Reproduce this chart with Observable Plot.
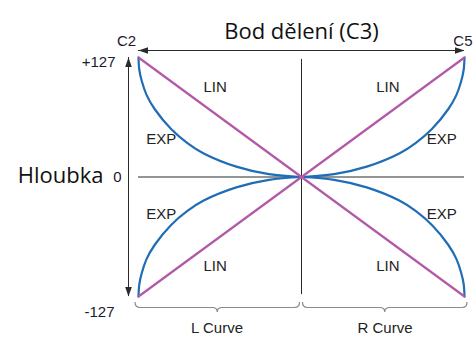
<!DOCTYPE html>
<html><head><meta charset="utf-8">
<script src="https://cdn.jsdelivr.net/npm/d3@7"></script>
<script src="https://cdn.jsdelivr.net/npm/@observablehq/plot@0.6"></script>
<style>html,body{margin:0;padding:0;background:#fff;overflow:hidden;}</style>
</head><body><div id="chart"></div>
<script>
const chartTitle = "Bod dělení (C3)";
const depthTitle = "Hloubka";
const rangeNotes = ["C2", "C5"];
const rangeNoteX = [-1, 1];
const depthTicks = [127, 0, -127];
const depthTickLabels = ["+127", "0", "-127"];
const curveTypes = ["EXP", "LIN"];
const sideNames = ["L Curve", "R Curve"];
const sideSigns = [-1, 1];
// one quadrant: distance from the break point (0..1) -> depth magnitude
const linPos = [0, 1];
const linDepth = [0, 127];
const expPos = [0, 0.2, 0.4, 0.6, 0.7, 0.8, 0.9, 0.95, 0.98, 0.995, 1];
const expDepth = [0, 3, 11, 25, 36, 51, 72, 87, 102, 114, 127];

// build the four mirrored curves per type
const series = [];
for (const sx of sideSigns) for (const sy of [1, -1]) {
  expPos.forEach((p, i) => series.push({type: "EXP", id: `EXP${sx}${sy}`, x: sx * p, y: sy * expDepth[i]}));
  linPos.forEach((p, i) => series.push({type: "LIN", id: `LIN${sx}${sy}`, x: sx * p, y: sy * linDepth[i]}));
}
const curveLabels = [];
for (const sx of sideSigns) for (const sy of [1, -1]) {
  curveLabels.push({text: "LIN", x: sx * 0.53, y: sy * 95});
  curveLabels.push({text: "EXP", x: sx * 0.86, y: sy * 40});
}

const head = {draw(ctx) { ctx.moveTo(0, 0); ctx.lineTo(3.3, 9.5); ctx.lineTo(-3.3, 9.5); ctx.closePath(); }};
const axisColor = "#2a2a2a";
const labelColor = "#1b1b2e";
const small = {fontSize: 15, fontFamily: "Liberation Sans, Arial, sans-serif"};
const big = {fontSize: 22, fontFamily: "Open Sans, sans-serif", fill: "#111"};

const braces = (index, scales) => {
  const g = d3.create("svg:g").attr("fill", "none").attr("stroke", "#8a8a8a").attr("stroke-width", 1.2);
  const yb = scales.y(-127) + 6, ym = yb + 5.5, yt = yb + 10;
  const spans = [[scales.x(-1) - 3, scales.x(0) - 1.5], [scales.x(0) + 1.5, scales.x(1) + 3]];
  for (const [a, b] of spans) {
    const m = (a + b) / 2, r = 5;
    g.append("path").attr("d",
      `M${a},${yb} Q${a},${ym} ${a + r},${ym} L${m - r},${ym} Q${m},${ym} ${m},${yt} Q${m},${ym} ${m + r},${ym} L${b - r},${ym} Q${b},${ym} ${b},${yb}`);
  }
  return g.node();
};

const chart = Plot.plot({
  width: 473, height: 340,
  marginLeft: 138, marginRight: 9, marginTop: 57, marginBottom: 44,
  x: {domain: [-1, 1], axis: null},
  y: {domain: [-127, 127], axis: null},
  color: {domain: curveTypes, range: ["#1f6db4", "#b25aa8"]},
  style: {background: "#fff", overflow: "visible"},
  marks: [
    Plot.ruleY([0], {x1: -1, x2: 1, stroke: axisColor, strokeWidth: 1}),
    Plot.ruleX([0], {y1: -125, y2: 125, stroke: axisColor, strokeWidth: 1}),
    Plot.ruleY([127], {x1: -1, x2: 1, dy: -7, stroke: axisColor, strokeWidth: 1}),
    Plot.ruleX([-1], {y1: -127, y2: 127, dx: -10, stroke: axisColor, strokeWidth: 1}),
    Plot.dot(rangeNoteX, {x: d => d, y: () => 127, dy: -7, symbol: head, rotate: d => d < 0 ? 270 : 90, fill: axisColor}),
    Plot.dot([127, -127], {frameAnchor: "left", y: d => d, dx: -10, symbol: head, rotate: d => d > 0 ? 0 : 180, fill: axisColor}),
    Plot.line(series.filter(d => d.type === "EXP"), {x: "x", y: "y", z: "id", stroke: "type", strokeWidth: 2.2, curve: "catmull-rom"}),
    Plot.line(series.filter(d => d.type === "LIN"), {x: "x", y: "y", z: "id", stroke: "type", strokeWidth: 2.2}),
    Plot.text(curveLabels, {x: "x", y: "y", text: "text", fill: "#222", ...small}),
    ...depthTicks.map((v, i) => Plot.text([v], {frameAnchor: "left", y: d => d, text: [depthTickLabels[i]], textAnchor: "end", dx: [-23, -17, -24][i], dy: [5, 0, 16][i], fill: labelColor, ...small})),
    ...rangeNotes.map((n, i) => Plot.text([rangeNoteX[i]], {x: d => d, frameAnchor: "top", text: [n], textAnchor: ["middle", "end"][i], dx: [-12, 8][i], dy: -22, fill: labelColor, ...small})),
    ...sideNames.map((n, i) => Plot.text([sideSigns[i] * 0.5], {x: d => d, frameAnchor: "bottom", text: [n], dx: [-3, 2][i], dy: 36, fill: "#222", ...small})),
    Plot.text([chartTitle], {x: () => 0, frameAnchor: "top", text: d => d, dy: -34, ...big}),
    Plot.text([depthTitle], {y: () => 0, frameAnchor: "left", text: d => d, textAnchor: "end", dx: -35, dy: -1, ...big}),
    braces
  ]
});
document.getElementById("chart").append(chart);
</script>
</body></html>
